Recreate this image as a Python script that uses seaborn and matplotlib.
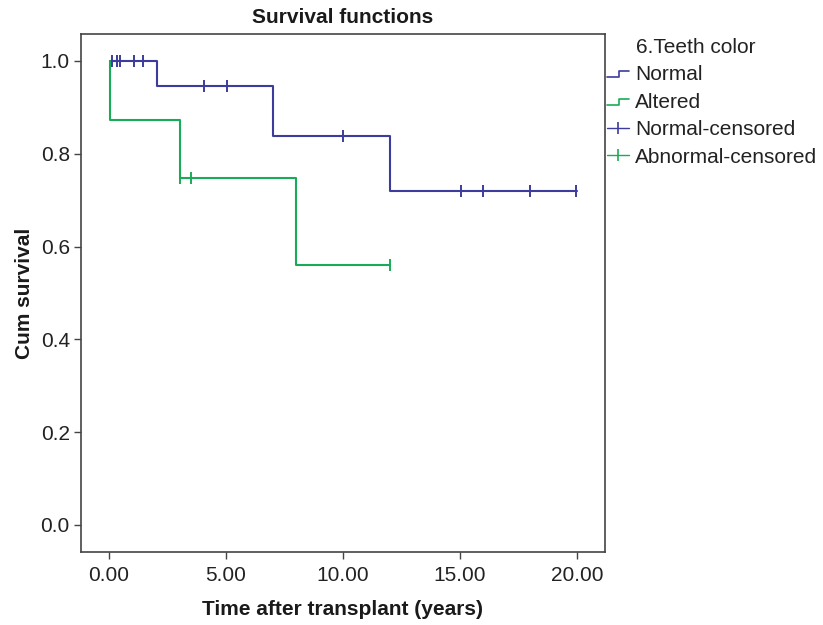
import matplotlib
matplotlib.use("Agg")
import matplotlib.pyplot as plt
import seaborn as sns
import pandas as pd
from matplotlib.lines import Line2D
from matplotlib.legend_handler import HandlerBase

# ---- data ----
normal_time = [0.05, 2.04, 7.0, 12.0, 20.0]
normal_surv = [1.0, 0.946, 0.838, 0.72, 0.72]
altered_time = [0.05, 0.05, 3.04, 8.0, 12.0]
altered_surv = [1.0, 0.873, 0.747, 0.56, 0.56]
normal_cens_time = [0.12, 0.33, 0.47, 1.08, 1.46, 4.06, 5.03, 10.0, 15.03, 16.0, 18.0, 19.97]
normal_cens_surv = [1.0, 1.0, 1.0, 1.0, 1.0, 0.946, 0.946, 0.838, 0.72, 0.72, 0.72, 0.72]
altered_cens_time = [3.04, 3.5, 12.0]
altered_cens_surv = [0.747, 0.747, 0.56]
x_ticks = [0, 5, 10, 15, 20]
y_ticks = [0.0, 0.2, 0.4, 0.6, 0.8, 1.0]
legend_labels = ["Normal", "Altered", "Normal-censored", "Abnormal-censored"]

BLUE = "#3c3c9c"
GREEN = "#1aab58"

sns.set_style("white")
plt.rcParams["font.family"] = ["Liberation Sans", "DejaVu Sans"]

fig = plt.figure(figsize=(8.23, 6.25), dpi=100)
ax = fig.add_axes([0.0984, 0.1163, 0.6367, 0.8293])

df_n = pd.DataFrame({"t": normal_time, "s": normal_surv})
df_a = pd.DataFrame({"t": altered_time, "s": altered_surv})
sns.lineplot(data=df_n, x="t", y="s", ax=ax, color=BLUE, lw=1.5,
             drawstyle="steps-post", sort=False, estimator=None)
sns.lineplot(data=df_a, x="t", y="s", ax=ax, color=GREEN, lw=1.5,
             drawstyle="steps-post", sort=False, estimator=None)

dfc_n = pd.DataFrame({"t": normal_cens_time, "s": normal_cens_surv})
dfc_a = pd.DataFrame({"t": altered_cens_time, "s": altered_cens_surv})
sns.scatterplot(data=dfc_n, x="t", y="s", ax=ax, marker="|", s=80,
                color=BLUE, linewidth=1.4)
sns.scatterplot(data=dfc_a, x="t", y="s", ax=ax, marker="|", s=80,
                color=GREEN, linewidth=1.4)

ax.set_xlim(-1.2, 21.2)
ax.set_ylim(-0.059, 1.058)
ax.set_xticks(x_ticks)
ax.set_xticklabels([f"{v:.2f}" for v in x_ticks])
ax.set_yticks(y_ticks)
ax.set_yticklabels([f"{v:.1f}" for v in y_ticks])
ax.tick_params(axis="both", which="major", bottom=True, left=True,
               direction="out", length=5, width=1.0,
               color="#444444", labelsize=15, labelcolor="#222222", pad=3)
ax.tick_params(axis="x", pad=5)
for sp in ax.spines.values():
    sp.set_color("#444444")
    sp.set_linewidth(1.2)

ax.set_title("Survival functions", fontsize=15, fontweight="bold", pad=8,
             color="#1a1a1a")
ax.set_xlabel("Time after transplant (years)", fontsize=15, fontweight="bold",
              labelpad=11, color="#1a1a1a")
ax.set_ylabel("Cum survival", fontsize=15, fontweight="bold", labelpad=5,
              color="#1a1a1a")


class StepHandler(HandlerBase):
    def create_artists(self, legend, orig_handle, xdescent, ydescent,
                       width, height, fontsize, trans):
        x0 = -xdescent
        x1 = x0 + width
        xm = x0 + width * 0.55
        ylo = -ydescent + height * 0.2
        yhi = -ydescent + height * 0.62
        ln = Line2D([x0, xm, xm, x1], [ylo, ylo, yhi, yhi],
                    color=orig_handle.get_color(), lw=1.2)
        ln.set_transform(trans)
        return [ln]


h_norm = Line2D([], [], color=BLUE)
h_alt = Line2D([], [], color=GREEN)
h_nc = Line2D([], [], color=BLUE, lw=1.0, marker="|", markersize=8, markeredgewidth=1.2)
h_ac = Line2D([], [], color=GREEN, lw=1.0, marker="|", markersize=8, markeredgewidth=1.2)

leg = fig.legend([h_norm, h_alt, h_nc, h_ac], legend_labels,
                 loc="upper left", bbox_to_anchor=(0.7278, 0.9088),
                 frameon=False, fontsize=15, handlelength=1.06,
                 handletextpad=0.26, labelspacing=0.405, borderaxespad=0,
                 borderpad=0.4,
                 handler_map={h_norm: StepHandler(), h_alt: StepHandler()})
for t in leg.get_texts():
    t.set_color("#222222")

fig.text(0.7728, 0.9245, "6.Teeth color", fontsize=15, color="#222222",
         ha="left", va="center")

fig.savefig("out.png", dpi=100)
